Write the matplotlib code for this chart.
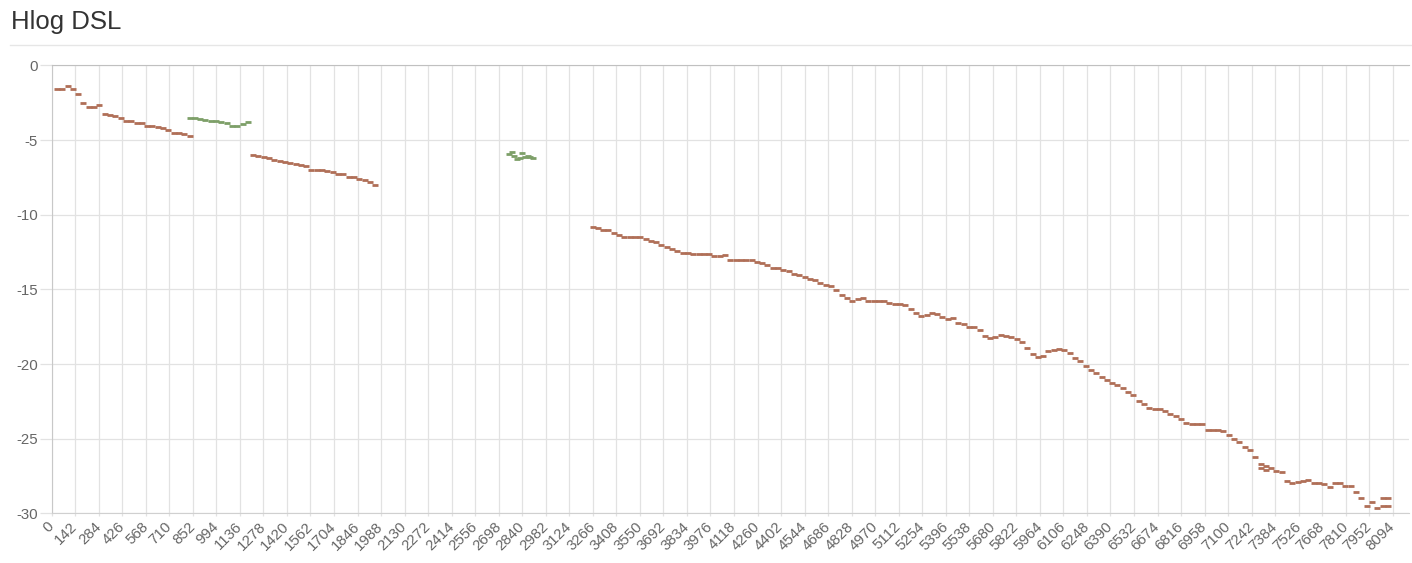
import numpy as np
import matplotlib
matplotlib.use("Agg")
import matplotlib.pyplot as plt
from matplotlib.lines import Line2D

# ── data: Hlog (dB) per tone group, grid step of 32 tones ──────────────────
STEP = 32

# brown series, first block (tones 32 .. 832)
brown1_start = 32
brown1_vals = [-1.55, -1.55, -1.35, -1.55, -1.9, -2.5, -2.8, -2.8, -2.65, -3.25,
               -3.3, -3.4, -3.55, -3.7, -3.75, -3.85, -3.85, -4.05, -4.05, -4.1,
               -4.2, -4.35, -4.5, -4.5, -4.6, -4.7]

# brown series, second block (tones 1216 .. 1952)
brown2_start = 1216
brown2_vals = [-6.0, -6.05, -6.15, -6.2, -6.3, -6.4, -6.45, -6.55, -6.6, -6.7,
               -6.75, -7.0, -7.0, -7.0, -7.05, -7.15, -7.3, -7.3, -7.5, -7.5,
               -7.6, -7.65, -7.8, -8.0]

# brown series, third block (tones 3264 .. 8064)
brown3_start = 3264
brown3_vals = [
    -10.8, -10.9, -11.05, -11.05, -11.2, -11.35, -11.5, -11.5, -11.5, -11.5,
    -11.6, -11.75, -11.8, -12.05, -12.15, -12.3, -12.45, -12.55, -12.55, -12.6,
    -12.6, -12.6, -12.65, -12.75, -12.75, -12.7, -13.0, -13.0, -13.0, -13.0,
    -13.05, -13.15, -13.2, -13.35, -13.55, -13.6, -13.7, -13.75, -14.0, -14.05,
    -14.2, -14.3, -14.35, -14.55, -14.7, -14.75, -15.05, -15.35, -15.6, -15.75,
    -15.65, -15.6, -15.8, -15.75, -15.75, -15.75, -15.9, -16.0, -16.0, -16.05,
    -16.3, -16.55, -16.75, -16.7, -16.6, -16.65, -16.85, -17.0, -16.95, -17.25,
    -17.3, -17.5, -17.55, -17.7, -18.1, -18.25, -18.2, -18.05, -18.1, -18.2,
    -18.35, -18.55, -18.95, -19.3, -19.5, -19.45, -19.15, -19.05, -19.0, -19.05,
    -19.25, -19.6, -19.8, -20.1, -20.4, -20.6, -20.9, -21.05, -21.25, -21.4,
    -21.6, -21.85, -22.1, -22.5, -22.7, -22.95, -23.0, -23.0, -23.15, -23.35,
    -23.5, -23.7, -23.95, -24.0, -24.0, -24.0, -24.45, -24.45, -24.45, -24.5,
    -24.75, -25.0, -25.25, -25.55, -25.75, -26.25, -26.7, -26.8, -26.95, -27.15,
    -27.25, -27.85, -28.0, -27.9, -27.85, -27.8, -28.0, -28.0, -28.05, -28.25,
    -28.0, -28.0, -28.15, -28.2, -28.6, -29.0, -29.5, -29.25, -29.65, -29.0,
    -29.5]

# duplicate readings at the tail
brown_extra_x = [7296, 7328, 8032, 8064]
brown_extra_y = [-26.95, -27.1, -29.5, -29.0]

# green series, first block (tones 832 .. 1184)
green1_start = 832
green1_vals = [-3.5, -3.55, -3.6, -3.65, -3.7, -3.75, -3.8, -3.85, -4.05, -4.05,
               -3.9, -3.8]

# green series, scattered points around tone 2800
green2_x = [2760, 2776, 2792, 2808, 2824, 2840, 2856, 2872, 2888, 2904]
green2_y = [-5.95, -5.8, -6.05, -6.25, -6.2, -5.85, -6.15, -6.05, -6.1, -6.2]

x_ticks = list(range(0, 8192, 142))
y_ticks = [0, -5, -10, -15, -20, -25, -30]

BROWN = "#b06f57"
GREEN = "#7d9f68"
GRID = "#e2e2e2"
TEXT = "#666666"

plt.rcParams["font.family"] = ["Liberation Sans", "DejaVu Sans"]
plt.rcParams["axes.unicode_minus"] = False

fig = plt.figure(figsize=(14.12, 5.63), dpi=100)
ax = fig.add_axes([0.0366, 0.0883, 0.9613, 0.7954])


def block(start, vals):
    return start + STEP * np.arange(len(vals)), np.array(vals)


mk = dict(marker="_", linestyle="none", markersize=4.0, markeredgewidth=2.0)
for start, vals in [(brown1_start, brown1_vals), (brown2_start, brown2_vals),
                    (brown3_start, brown3_vals)]:
    xs, ys = block(start, vals)
    ax.plot(xs, ys, color=BROWN, **mk)
ax.plot(brown_extra_x, brown_extra_y, color=BROWN, **mk)

xs, ys = block(green1_start, green1_vals)
ax.plot(xs, ys, color=GREEN, **mk)
ax.plot(green2_x, green2_y, color=GREEN, **mk)

ax.set_xlim(0, 8192)
ax.set_ylim(-30, 0)
ax.set_xticks(x_ticks)
ax.set_xticklabels([str(t) for t in x_ticks], rotation=45, ha="right",
                   va="center", rotation_mode="anchor")
ax.set_yticks(y_ticks)
ax.grid(True, color=GRID, linewidth=0.9)
ax.set_axisbelow(True)
ax.tick_params(axis="both", colors=GRID, labelcolor=TEXT, labelsize=10.8,
               width=0.9)
ax.tick_params(axis="x", length=2, pad=6)
ax.tick_params(axis="y", length=9, pad=1)

ax.spines["right"].set_visible(False)
ax.spines["left"].set_color("#c8c8c8")
ax.spines["bottom"].set_color("#d0d0d0")
ax.spines["top"].set_color("#c0c0c0")

# header
fig.text(11 / 1412, 1 - 29.5 / 563, "Hlog DSL", fontsize=18.5, color="#333333",
         ha="left", va="baseline")
fig.add_artist(Line2D([10 / 1412, 1], [1 - 45 / 563] * 2, color="#e6e6e6",
                      linewidth=1, transform=fig.transFigure))

fig.savefig("out.png", dpi=100)
